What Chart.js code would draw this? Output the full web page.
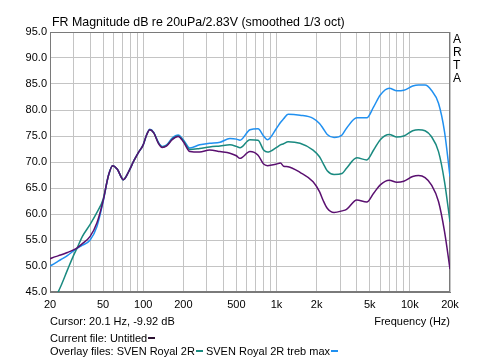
<!DOCTYPE html>
<html>
<head>
<meta charset="utf-8">
<script src="https://cdn.jsdelivr.net/npm/chart.js@4/dist/chart.umd.min.js"></script>
<style>
	body { margin: 0; background: #fff; }
	#wrap { position: relative; width: 500px; height: 360px; font-family: 'Liberation Sans', Arial, sans-serif; color: #000; }
	#wrap canvas { position: absolute; left: 0; top: 0; }
	.txt { position: absolute; white-space: nowrap; font-size: 11px; line-height: 11px; }
	.dash { display: inline-block; width: 7px; height: 2px; vertical-align: 3px; margin-left: 1px; }
</style>
</head>
<body>
<div id="wrap">
	<canvas id="frChart" width="500" height="360"></canvas>
	<div class="txt" style="left:52px; top:16px; font-size:12.4px; line-height:13px;">FR Magnitude dB re 20uPa/2.83V (smoothed 1/3 oct)</div>
	<div class="txt" style="left:453px; top:33px; font-size:12px; line-height:13px;">A<br>R<br>T<br>A</div>
	<div class="txt" style="left:50px; top:316px;">Cursor: 20.1 Hz, -9.92 dB</div>
	<div class="txt" style="right:50px; top:316px;">Frequency (Hz)</div>
	<div class="txt" style="left:50px; top:333px;">Current file: Untitled<span class="dash" style="background:#2a1030"></span></div>
	<div class="txt" style="left:50px; top:346px;">Overlay files: SVEN Royal 2R<span class="dash" style="background:#1a8a80"></span> SVEN Royal 2R treb max<span class="dash" style="background:#2090f0"></span></div>
</div>
<script>
// frequencies (Hz) the curves were read at
const freqs = [20, 22, 24, 27, 30, 32, 35, 40, 45, 50,
	55, 59, 64, 71, 78, 85, 92, 100, 106, 112,
	120, 130, 139, 150, 165, 183, 200, 224, 265, 315,
	377, 447, 500, 532, 632, 727, 800, 856, 1000, 1070,
	1130, 1220, 1500, 1880, 2100, 2230, 2400, 2700, 3100, 3350,
	4000, 4750, 5350, 6000, 7000, 8000, 9000, 10500, 11600, 13000,
	14500, 16400, 18200, 20000];

// Current file: Untitled (purple)
const untitled = [51.4, 51.8, 52.1, 52.6, 53.1, 53.5, 54.3, 55.7, 58.3, 62.5,
	67.5, 69.3, 68.6, 66.6, 68.2, 70.2, 71.8, 73.3, 75.2, 76.2,
	75.6, 73.6, 72.8, 73.1, 74.3, 74.9, 73.9, 72.0, 71.9, 72.3,
	72.0, 71.7, 71.2, 70.7, 72.0, 71.3, 69.6, 69.3, 69.6, 69.8,
	69.2, 69.1, 68.0, 66.2, 64.3, 62.7, 61.1, 60.3, 60.6, 60.9,
	62.7, 62.3, 64.0, 65.6, 66.5, 66.1, 66.3, 67.2, 67.4, 67.0,
	65.6, 62.4, 56.6, 49.4];

// Overlay: SVEN Royal 2R (teal)
const svenRoyal = [42.5, 44.0, 46.0, 49.2, 52.0, 53.5, 55.7, 58.0, 60.3, 62.8,
	67.5, 69.3, 68.6, 66.6, 68.2, 70.2, 71.8, 73.3, 75.2, 76.2,
	75.6, 73.7, 72.9, 73.2, 74.4, 75.0, 74.1, 72.4, 72.6, 72.9,
	73.1, 73.3, 73.0, 72.75, 74.3, 74.2, 72.3, 71.9, 72.8, 73.3,
	73.5, 73.9, 73.6, 72.3, 71.0, 69.8, 68.3, 67.6, 67.8, 68.8,
	70.8, 70.4, 72.3, 74.3, 75.3, 74.8, 75.0, 76.0, 76.2, 76.0,
	74.9, 72.0, 66.2, 58.5];

// Overlay: SVEN Royal 2R treb max (blue)
const svenTrebMax = [50.0, 50.6, 51.2, 52.0, 52.9, 53.4, 54.0, 55.0, 57.6, 62.3,
	67.5, 69.3, 68.6, 66.6, 68.2, 70.2, 71.8, 73.3, 75.2, 76.3,
	75.7, 73.8, 73.0, 73.3, 74.6, 75.2, 74.3, 72.7, 73.3, 73.6,
	73.8, 74.5, 74.4, 74.2, 76.2, 76.4, 75.0, 74.3, 76.5, 77.6,
	78.3, 79.2, 79.0, 78.4, 77.4, 76.5, 75.3, 74.7, 75.2, 76.5,
	78.5, 78.5, 80.6, 82.9, 84.2, 83.7, 83.8, 84.6, 84.8, 84.8,
	83.8, 81.3, 75.8, 67.2];

// vertical grid lines and the ones that get a label
const xGrid = [20, 30, 40, 50, 60, 70, 80, 90, 100, 200, 300, 400, 500, 600, 700, 800, 900,
	1000, 2000, 3000, 4000, 5000, 6000, 7000, 8000, 9000, 10000, 20000];
const xLabels = {20: '20', 50: '50', 100: '100', 200: '200', 500: '500',
	1000: '1k', 2000: '2k', 5000: '5k', 10000: '10k', 20000: '20k'};
const yMin = 45, yMax = 95, yStep = 5;

const toPoints = (vals) => freqs.map((f, i) => ({x: f, y: vals[i]}));

function makeSet(label, vals, color) {
	return {
		label: label,
		data: toPoints(vals),
		borderColor: color,
		borderWidth: 1.5,
		pointRadius: 0,
		fill: false,
		cubicInterpolationMode: 'monotone'
	};
}

// outline round the plot area
const framePlugin = {
	id: 'frame',
	beforeDatasetsDraw(chart) {
		const a = chart.chartArea;
		const ctx = chart.ctx;
		ctx.save();
		ctx.strokeStyle = '#7a7a7a';
		ctx.lineWidth = 1;
		ctx.strokeRect(Math.round(a.left) + 0.5, Math.round(a.top) + 0.5,
			Math.round(a.right - a.left) - 1, Math.round(a.bottom - a.top) - 1);
		ctx.restore();
	}
};

const tickFont = {family: "'Liberation Sans', Arial, sans-serif", size: 11};

new Chart(document.getElementById('frChart'), {
	type: 'line',
	data: {
		datasets: [
			makeSet('Untitled', untitled, '#5a1070'),
			makeSet('SVEN Royal 2R', svenRoyal, '#1a8a80'),
			makeSet('SVEN Royal 2R treb max', svenTrebMax, '#2090f0')
		]
	},
	options: {
		responsive: false,
		animation: false,
		devicePixelRatio: 1,
		layout: {padding: {top: 32, right: 50, left: 0, bottom: 0}},
		plugins: {legend: {display: false}, tooltip: {enabled: false}},
		scales: {
			x: {
				type: 'logarithmic',
				min: 20,
				max: 20000,
				afterBuildTicks: (scale) => { scale.ticks = xGrid.map(v => ({value: v})); },
				afterFit: (scale) => { scale.height = 68; },
				grid: {color: '#c4c4c4', lineWidth: 1, drawTicks: false},
				border: {color: '#7a7a7a'},
				ticks: {
					autoSkip: false,
					maxRotation: 0,
					padding: 6,
					color: '#000',
					font: tickFont,
					callback: (v) => xLabels[v] || ''
				}
			},
			y: {
				type: 'linear',
				min: yMin,
				max: yMax,
				afterFit: (scale) => { scale.width = 50; },
				grid: {color: '#c4c4c4', lineWidth: 1, drawTicks: false},
				border: {color: '#7a7a7a'},
				ticks: {
					stepSize: yStep,
					padding: 3,
					color: '#000',
					font: tickFont,
					callback: (v) => v.toFixed(1)
				}
			}
		}
	},
	plugins: [framePlugin]
});
</script>
</body>
</html>
